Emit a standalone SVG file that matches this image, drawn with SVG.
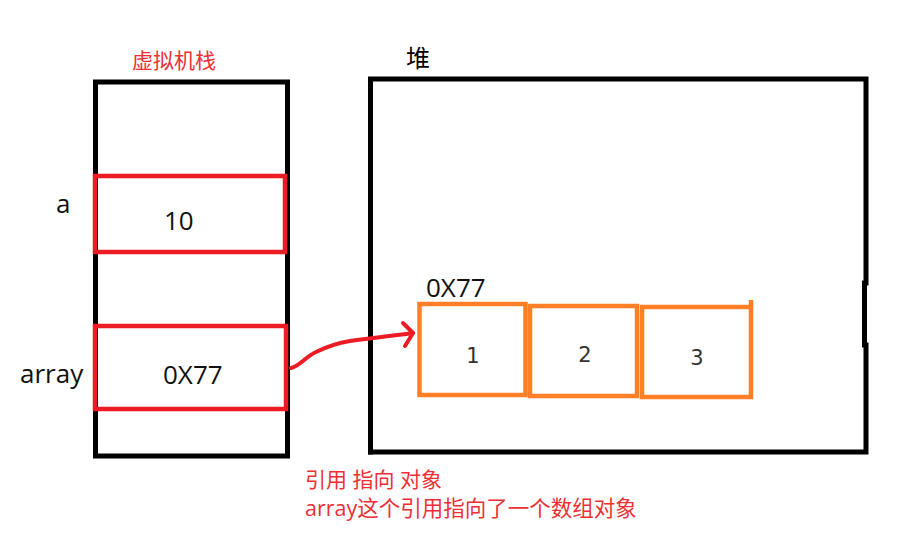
<svg xmlns="http://www.w3.org/2000/svg" width="915" height="555" viewBox="0 0 915 555">
<style>
.frame{fill:none;stroke:#000;stroke-width:5;stroke-linecap:square}
.slot{fill:none;stroke:#ed1c24;stroke-width:4.5}
.cell{fill:none;stroke:#ff7f27;stroke-width:4.5}
.t{font-family:"Open Sans","Noto Sans CJK SC",sans-serif;fill:#111}
.red{font-family:"Open Sans","Noto Sans CJK SC",sans-serif;fill:#ee3035}
.num{font-family:"DejaVu Sans",sans-serif;fill:#333;font-size:21px}
.conn{fill:none;stroke:#ed1c24;stroke-width:4;stroke-linecap:round;stroke-linejoin:round}
</style>
<rect width="915" height="555" fill="#fff"/>
<g id="stack">
<rect class="frame" x="95.5" y="82" width="192" height="374"/>
<text class="red" x="132" y="68" font-size="21">虚拟机栈</text>
</g>
<g id="heap">
<path class="frame" d="M370.5 452 V79 H866 V283"/>
<path class="frame" d="M864.5 283 V345"/>
<path class="frame" d="M866 345 V452 H370.5"/>
<text x="406" y="67" font-size="24" fill="#000" font-family="Noto Sans CJK SC,sans-serif">堆</text>
<text class="t" x="426" y="297" font-size="26">0X77</text>
</g>
<g id="slot-a">
<rect class="slot" x="95" y="176" width="190" height="76"/>
<text class="t" x="56" y="213" font-size="26">a</text>
<text class="t" x="164" y="230" font-size="26">10</text>
</g>
<g id="slot-array">
<rect class="slot" x="95" y="326" width="191" height="83"/>
<text class="t" x="20" y="383" font-size="26">array</text>
<text class="t" x="163" y="384" font-size="26">0X77</text>
</g>
<g id="cell-1">
<rect class="cell" x="419.5" y="304" width="106" height="91"/>
<text class="num" x="473" y="363" text-anchor="middle">1</text>
</g>
<g id="cell-2">
<rect class="cell" x="530" y="306" width="107" height="90"/>
<text class="num" x="585" y="362" text-anchor="middle">2</text>
</g>
<g id="cell-3">
<rect class="cell" x="642" y="307" width="109" height="90"/>
<path class="cell" d="M751 307 V300"/>
<text class="num" x="697" y="365" text-anchor="middle">3</text>
</g>
<g id="connectors">
<path class="conn" d="M291 368 C300 366 305 357 316 352 C328 346 338 343 350 341 C370 338 390 336 413 333"/>
<path class="conn" d="M403 323 L413 333 L405 346"/>
</g>
<g id="notes">
<text class="red" x="305" y="487" font-size="21">引用 指向 对象</text>
<text class="red" x="305" y="516" font-size="21.5">array这个引用指向了一个数组对象</text>
</g>
</svg>
